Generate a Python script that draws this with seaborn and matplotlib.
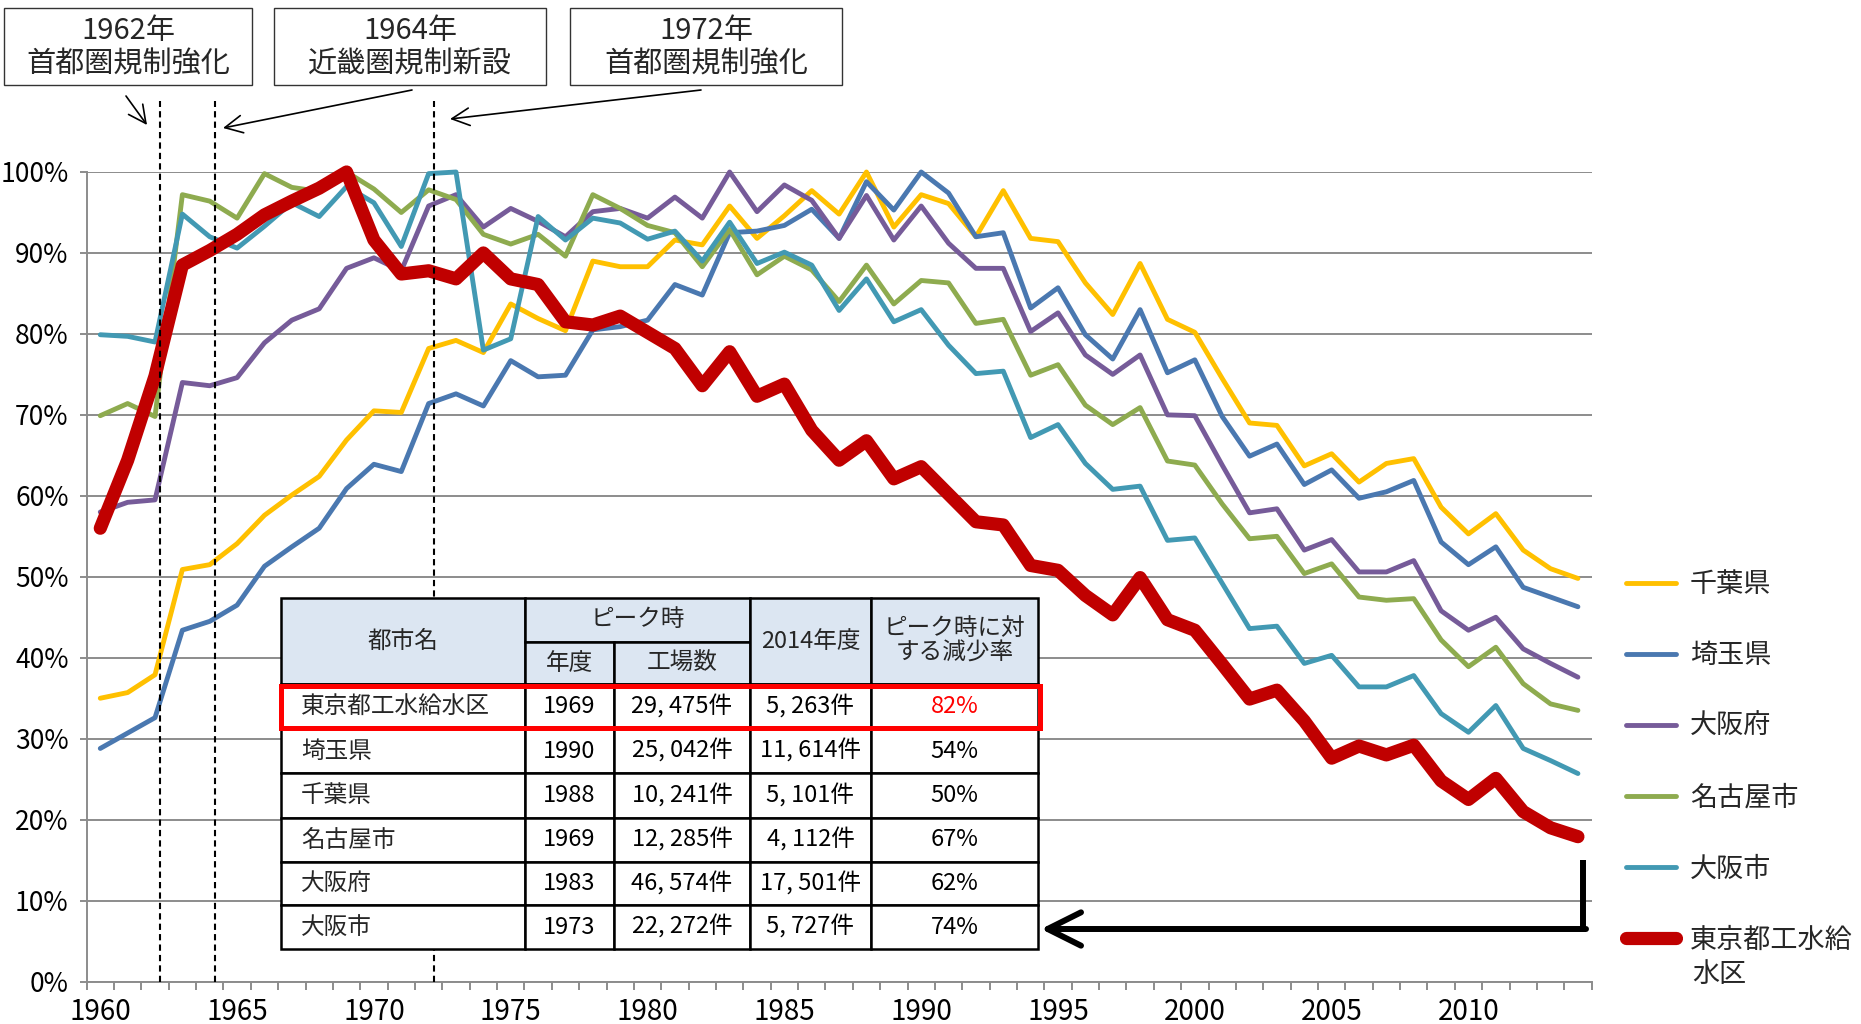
import numpy as np
import pandas as pd
import seaborn as sns
import matplotlib.pyplot as plt
from matplotlib.patches import Rectangle, FancyArrowPatch
from matplotlib.lines import Line2D
from matplotlib.ticker import FuncFormatter

# === data (share of each area's peak factory count) ===
years = list(range(1960, 2015))

chiba = [35.0, 35.7, 37.9, 50.9, 51.5, 54.1, 57.6, 60.1, 62.4, 66.9,
         70.5, 70.3, 78.2, 79.2, 77.7, 83.7, 81.9, 80.4, 89.0, 88.3,
         88.3, 91.6, 91.0, 95.8, 91.8, 94.6, 97.7, 94.8, 100.0, 93.2,
         97.2, 96.1, 92.0, 97.7, 91.8, 91.4, 86.3, 82.4, 88.7, 81.8,
         80.2, 74.5, 69.0, 68.7, 63.7, 65.2, 61.7, 64.0, 64.6, 58.6,
         55.3, 57.8, 53.3, 51.0, 49.8]
saitama = [28.8, 30.7, 32.6, 43.4, 44.5, 46.5, 51.3, 53.7, 56.0, 60.9,
           63.9, 63.0, 71.4, 72.6, 71.1, 76.7, 74.7, 74.9, 80.5, 80.9,
           81.7, 86.1, 84.8, 92.5, 92.7, 93.4, 95.4, 91.8, 98.8, 95.3,
           100.0, 97.4, 92.0, 92.5, 83.2, 85.7, 79.9, 76.9, 83.0, 75.2,
           76.8, 69.8, 64.9, 66.4, 61.4, 63.2, 59.7, 60.5, 61.9, 54.3,
           51.5, 53.7, 48.7, 47.5, 46.3]
osaka_fu = [58.0, 59.2, 59.5, 74.0, 73.6, 74.6, 78.9, 81.7, 83.1, 88.1,
            89.4, 87.8, 95.8, 97.2, 93.2, 95.5, 93.9, 92.0, 95.1, 95.5,
            94.3, 96.9, 94.3, 100.0, 95.1, 98.4, 96.5, 91.8, 97.1, 91.6,
            95.8, 91.2, 88.1, 88.1, 80.3, 82.6, 77.4, 75.0, 77.4, 70.0,
            69.9, 63.8, 57.9, 58.4, 53.3, 54.6, 50.6, 50.6, 52.0, 45.8,
            43.4, 45.0, 41.1, 39.3, 37.6]
nagoya = [69.9, 71.4, 69.8, 97.2, 96.4, 94.3, 99.8, 98.1, 97.6, 100.0,
          97.9, 95.0, 97.8, 96.6, 92.3, 91.1, 92.3, 89.6, 97.2, 95.5,
          93.4, 92.5, 88.3, 92.9, 87.3, 89.6, 87.9, 84.0, 88.5, 83.7,
          86.6, 86.3, 81.3, 81.8, 74.9, 76.2, 71.2, 68.8, 70.9, 64.3,
          63.8, 59.0, 54.7, 55.0, 50.4, 51.6, 47.5, 47.1, 47.3, 42.2,
          38.9, 41.3, 36.8, 34.3, 33.5]
osaka_shi = [79.9, 79.7, 79.0, 94.8, 92.0, 90.6, 93.3, 96.2, 94.5, 98.2,
             96.2, 90.8, 99.8, 100.0, 78.0, 79.4, 94.5, 91.6, 94.3, 93.7,
             91.7, 92.7, 89.0, 93.8, 88.7, 90.1, 88.5, 82.9, 86.8, 81.5,
             83.0, 78.6, 75.1, 75.4, 67.2, 68.8, 64.0, 60.8, 61.2, 54.5,
             54.8, 49.2, 43.6, 43.9, 39.3, 40.3, 36.4, 36.4, 37.8, 33.1,
             30.8, 34.1, 28.8, 27.3, 25.7]
tokyo = [56.0, 64.4, 74.8, 88.5, 90.3, 92.3, 94.7, 96.4, 98.0, 100.0,
         91.6, 87.4, 87.8, 86.8, 90.0, 86.8, 86.1, 81.5, 81.1, 82.2,
         80.2, 78.2, 73.6, 77.8, 72.3, 73.8, 68.1, 64.4, 66.8, 62.1,
         63.6, 60.2, 56.8, 56.4, 51.4, 50.8, 47.7, 45.3, 49.9, 44.7,
         43.4, 39.2, 34.9, 36.0, 32.2, 27.6, 29.1, 28.0, 29.2, 24.8,
         22.5, 25.1, 21.0, 19.0, 17.9]

series_names = ["千葉県", "埼玉県", "大阪府", "名古屋市", "大阪市", "東京都工水給水区"]
series_values = [chiba, saitama, osaka_fu, nagoya, osaka_shi, tokyo]
series_colors = ["#FFC000", "#4A78B0", "#765B99", "#8EAB4F", "#4299B3", "#C00000"]
series_widths = [3.5, 3.5, 3.5, 3.5, 3.5, 9.5]

# table inset
table_cities = ["東京都工水給水区", "埼玉県", "千葉県", "名古屋市", "大阪府", "大阪市"]
table_peak_year = ["1969", "1990", "1988", "1969", "1983", "1973"]
table_peak_count = ["29, 475件", "25, 042件", "10, 241件", "12, 285件", "46, 574件", "22, 272件"]
table_count_2014 = ["5, 263件", "11, 614件", "5, 101件", "4, 112件", "17, 501件", "5, 727件"]
table_rate = ["82%", "54%", "50%", "67%", "62%", "74%"]

# policy events
event_years = ["1962年", "1964年", "1972年"]
event_texts = ["首都圏規制強化", "近畿圏規制新設", "首都圏規制強化"]
event_x = [1962.2, 1964.2, 1972.2]

df = pd.concat([pd.DataFrame({"year": years, "rate": np.array(v) / 100, "area": n})
                for n, v in zip(series_names, series_values)], ignore_index=True)

# === setup ===
sns.set_theme(style="white")
plt.rcParams["font.family"] = ["Liberation Sans Narrow", "Noto Sans CJK JP", "DejaVu Sans"]

W, H = 1861, 1024
fig = plt.figure(figsize=(W / 100, H / 100), dpi=100)
ax = fig.add_axes([86.6 / W, 1 - 981.6 / H, (1591.6 - 86.6) / W, (981.6 - 172) / H])


def fx(x):
    return x / W


def fy(y):
    return 1 - y / H


# === lines ===
for name, color, lw in zip(series_names, series_colors, series_widths):
    sns.lineplot(data=df[df["area"] == name], x="year", y="rate", color=color, lw=lw,
                 label=name, ax=ax, clip_on=False,
                 solid_capstyle="round", solid_joinstyle="round")

ax.set_xlim(1959.5, 2014.5)
ax.set_ylim(0, 1)
ax.set_xlabel("")
ax.set_ylabel("")

grey = "#8C8C8C"
ax.set_yticks(np.arange(0, 1.01, 0.1))
ax.yaxis.set_major_formatter(FuncFormatter(lambda v, p: f"{v * 100:.0f}%"))
ax.yaxis.grid(True, color=grey, lw=1.4)
ax.xaxis.grid(False)
ax.set_xticks(range(1960, 2011, 5))
ax.set_xticks(np.arange(1959.5, 2015, 1), minor=True)
ax.tick_params(axis="x", which="major", length=0, pad=11, labelsize=20, colors="black")
ax.tick_params(axis="x", which="minor", length=6, width=1.4, color=grey, direction="out", bottom=True)
ax.tick_params(axis="y", length=5, width=1.4, color=grey, direction="out", left=True,
               pad=8, labelsize=19, labelcolor="black")
for s in ["top", "right"]:
    ax.spines[s].set_visible(False)
for s in ["left", "bottom"]:
    ax.spines[s].set_color(grey)
    ax.spines[s].set_linewidth(1.4)

# policy lines
for x in event_x:
    ax.plot([x, x], [0, 1.088], color="black", lw=1.5, ls=(0, (3, 2)), clip_on=False, zorder=5)

# legend (last label wraps onto a second line)
handles, labels = ax.get_legend_handles_labels()
labels[-1] = "東京都工水給"
ax.legend(handles, labels, loc="upper left", bbox_to_anchor=(fx(1626), fy(571)),
          bbox_transform=fig.transFigure, frameon=False, fontsize=19.5,
          handlelength=1.85, handletextpad=0.5, labelspacing=1.63,
          borderaxespad=0, borderpad=0)
fig.text(fx(1692), fy(974), "水区", ha="left", va="center", fontsize=19.5)

# === event boxes ===
box_x = [(4, 252), (274, 546), (570, 842)]
for (x0, x1), yr, txt in zip(box_x, event_years, event_texts):
    fig.add_artist(Rectangle((fx(x0), fy(85)), (x1 - x0) / W, 77 / H, transform=fig.transFigure,
                             facecolor="white", edgecolor="#333333", lw=1.0))
    fig.text(fx((x0 + x1) / 2), fy(31), yr, ha="center", va="center", fontsize=21)
    fig.text(fx((x0 + x1) / 2), fy(65), txt, ha="center", va="center", fontsize=21)

arrows = [((126, 96), (147, 125)), ((412, 90), (223, 128)), ((701, 90), (450, 119))]
for a, b in arrows:
    fig.add_artist(FancyArrowPatch((fx(a[0]), fy(a[1])), (fx(b[0]), fy(b[1])),
                                   transform=fig.transFigure, arrowstyle="->,head_length=0.7,head_width=0.35",
                                   mutation_scale=18, lw=1.2, color="black", shrinkA=0, shrinkB=0))

# === table ===
cols = [281, 525, 614, 750, 871, 1038]
rows = [684, 729, 773, 818, 862, 905, 949]
head_top, head_mid = 598, 642
hdr = "#DCE6F2"


def cell(x0, x1, y0, y1, face="white"):
    fig.add_artist(Rectangle((fx(x0), fy(y1)), (x1 - x0) / W, (y1 - y0) / H,
                             transform=fig.transFigure, facecolor=face, edgecolor="black", lw=1.8))


cell(cols[0], cols[1], head_top, rows[0], hdr)
cell(cols[1], cols[3], head_top, head_mid, hdr)
cell(cols[1], cols[2], head_mid, rows[0], hdr)
cell(cols[2], cols[3], head_mid, rows[0], hdr)
cell(cols[3], cols[4], head_top, rows[0], hdr)
cell(cols[4], cols[5], head_top, rows[0], hdr)
tf = 17
fig.text(fx((cols[0] + cols[1]) / 2), fy((head_top + rows[0]) / 2), "都市名", ha="center", va="center", fontsize=tf)
fig.text(fx((cols[1] + cols[3]) / 2), fy((head_top + head_mid) / 2), "ピーク時", ha="center", va="center", fontsize=tf)
fig.text(fx((cols[1] + cols[2]) / 2), fy((head_mid + rows[0]) / 2), "年度", ha="center", va="center", fontsize=tf)
fig.text(fx((cols[2] + cols[3]) / 2), fy((head_mid + rows[0]) / 2), "工場数", ha="center", va="center", fontsize=tf)
fig.text(fx((cols[3] + cols[4]) / 2), fy((head_top + rows[0]) / 2), "2014年度", ha="center", va="center", fontsize=tf)
fig.text(fx((cols[4] + cols[5]) / 2), fy((head_top + rows[0]) / 2), "ピーク時に対\nする減少率",
         ha="center", va="center", fontsize=tf, linespacing=1.1)

for i in range(len(table_cities)):
    y0, y1 = rows[i], rows[i + 1]
    for j in range(5):
        cell(cols[j], cols[j + 1], y0, y1)
    yc = fy((y0 + y1) / 2)
    fig.text(fx(cols[0] + 20), yc, table_cities[i], ha="left", va="center", fontsize=tf)
    vals = [table_peak_year[i], table_peak_count[i], table_count_2014[i], table_rate[i]]
    for j, v in enumerate(vals, start=1):
        fig.text(fx((cols[j] + cols[j + 1]) / 2), yc, v, ha="center", va="center", fontsize=tf,
                 color="#FF0000" if (i == 0 and j == 4) else "black")

fig.add_artist(Rectangle((fx(281), fy(728)), (1040 - 281) / W, (728 - 686) / H,
                         transform=fig.transFigure, facecolor="none", edgecolor="#FF0000", lw=3.6))

# connector arrow to the table
fig.add_artist(Line2D([fx(1583), fx(1583)], [fy(860), fy(932)], transform=fig.transFigure,
                      color="black", lw=4.3, solid_capstyle="butt"))
fig.add_artist(FancyArrowPatch((fx(1586), fy(929)), (fx(1041), fy(929)), transform=fig.transFigure,
                               arrowstyle="->,head_length=1.6,head_width=0.8", mutation_scale=15,
                               lw=4.3, color="black", shrinkA=0, shrinkB=0))

fig.savefig("out.png", dpi=100)
